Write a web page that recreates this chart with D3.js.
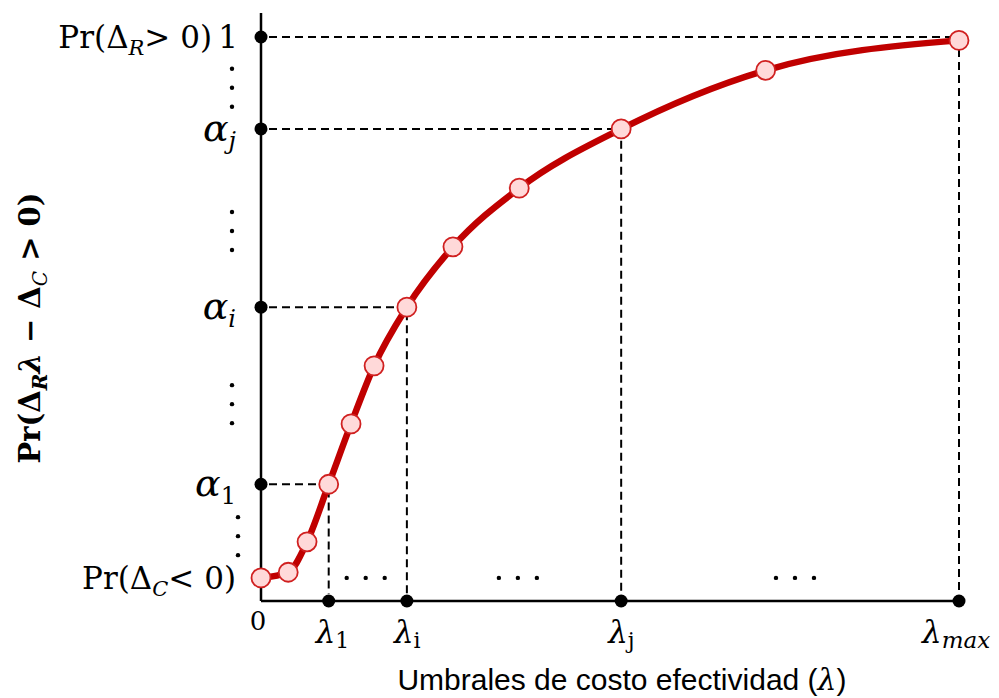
<!DOCTYPE html>
<meta charset="utf-8">
<style>
body {
	margin: 0;
	background-color: #ffffff;
}
.serif { font-family: "DejaVu Serif", serif; }
.guide { fill: none; stroke: #000; stroke-width: 2; stroke-dasharray: 8,5; }
.axis { stroke: #000; stroke-width: 2.5; fill: none; }
</style>
<body>
<script src="https://d3js.org/d3.v7.min.js"></script>
<script>
var width = 999;
var height = 698;

// curve points (lambda, probability)
var lambdaVals = [0, 3.9, 6.6, 9.7, 12.9, 16.2, 20.9, 27.5, 37.0, 51.6, 72.3, 100];
var probVals = [0.041, 0.051, 0.105, 0.207, 0.314, 0.417, 0.521, 0.628, 0.732, 0.837, 0.941, 0.994];

// marked thresholds and their probabilities
var tickLambda = [9.7, 20.9, 51.6, 100];
var tickAlpha = [0.207, 0.521, 0.837, 1];
var lambdaSubs = [["1", "normal"], ["i", "normal"], ["j", "normal"], ["max", "italic"]];
var alphaSubs = ["1", "i", "j"];

// ellipsis positions
var yDotsAt = [0.910, 0.656, 0.349, 0.115];
var xDotsAt = [15.0, 36.8, 76.5];

var x = d3.scaleLinear().domain([0, 100]).range([261, 959]);
var y = d3.scaleLinear().domain([0, 1]).range([601, 37]);

var svg = d3.select('body')
	.append('svg')
	.attr('width', width)
	.attr('height', height);

// dashed guides
tickLambda.forEach(function(l, i) {
	var a = tickAlpha[i];
	svg.append('path')
		.attr('class', 'guide')
		.attr('d', 'M' + (x(0) + 8) + ',' + y(a) + 'H' + x(l) + 'V' + (y(0) - 7));
});

// axes
svg.append('line').attr('class', 'axis')
	.attr('x1', x(0)).attr('y1', 13).attr('x2', x(0)).attr('y2', y(0));
svg.append('line').attr('class', 'axis')
	.attr('x1', x(0)).attr('y1', y(0)).attr('x2', x(100)).attr('y2', y(0));

// tick dots
svg.selectAll('.ydot').data(tickAlpha).enter().append('circle')
	.attr('cx', x(0)).attr('cy', function(d) { return y(d); }).attr('r', 6.5);
svg.selectAll('.xdot').data(tickLambda).enter().append('circle')
	.attr('cx', function(d) { return x(d); }).attr('cy', y(0)).attr('r', 6.5);

// curve
var pts = lambdaVals.map(function(l, i) { return [l, probVals[i]]; });
var line = d3.line()
	.x(function(d) { return x(d[0]); })
	.y(function(d) { return y(d[1]); })
	.curve(d3.curveMonotoneX);

svg.append('path')
	.datum(pts)
	.attr('d', line)
	.style('fill', 'none')
	.style('stroke', '#c00000')
	.style('stroke-width', 6.5);

svg.selectAll('.pt').data(pts).enter().append('circle')
	.attr('cx', function(d) { return x(d[0]); })
	.attr('cy', function(d) { return y(d[1]); })
	.attr('r', 9.5)
	.style('fill', '#ffd9d9')
	.style('stroke', '#d02020')
	.style('stroke-width', 1.8);

// ellipses
yDotsAt.forEach(function(v, i) {
	var cx = i == 3 ? 238 : 232;
	[-19, 0, 19].forEach(function(o) {
		svg.append('circle').attr('cx', cx).attr('cy', y(v) + o).attr('r', 2.2);
	});
});
xDotsAt.forEach(function(v) {
	[-19, 0, 19].forEach(function(o) {
		svg.append('circle').attr('cx', x(v) + o).attr('cy', y(0.041)).attr('r', 2.2);
	});
});

// y tick labels
var lab = svg.append('g').attr('class', 'serif').style('font-size', '31px');

var t1 = lab.append('text').attr('x', 212).attr('y', y(1) + 11).attr('text-anchor', 'end');
t1.append('tspan').text('Pr(Δ');
t1.append('tspan').attr('font-style', 'italic').attr('font-size', '21px').attr('dy', 7).text('R');
t1.append('tspan').attr('dy', -7).text('> 0)');
lab.append('text').attr('x', 238).attr('y', y(1) + 11).attr('text-anchor', 'end').text('1');

alphaSubs.forEach(function(s, i) {
	var t = lab.append('text').attr('x', 236).attr('y', y(tickAlpha[i]) + 12)
		.attr('text-anchor', 'end').attr('font-style', 'italic');
	t.append('tspan').style('font-size', '38px').text('α');
	t.append('tspan').attr('dy', 8).style('font-size', '24px')
		.attr('font-style', i == 0 ? 'normal' : 'italic').text(s);
});

var t0 = lab.append('text').attr('x', 236).attr('y', y(0.041) + 11).attr('text-anchor', 'end');
t0.append('tspan').text('Pr(Δ');
t0.append('tspan').attr('font-style', 'italic').attr('font-size', '21px').attr('dy', 7).text('C');
t0.append('tspan').attr('dy', -7).text('< 0)');

lab.append('text').attr('x', x(0) - 3).attr('y', 630).attr('text-anchor', 'middle')
	.style('font-size', '26px').text('0');

// x tick labels
tickLambda.forEach(function(l, i) {
	var last = i == tickLambda.length - 1;
	var t = lab.append('text')
		.attr('x', last ? x(l) - 37 : x(l) - 13)
		.attr('y', 643).attr('text-anchor', 'start');
	t.append('tspan').attr('font-style', 'italic').text('λ');
	t.append('tspan').attr('dy', 5).style('font-size', last ? '23px' : '22px')
		.attr('font-style', lambdaSubs[i][1]).text(lambdaSubs[i][0]);
});

// x title
var xt = svg.append('text').attr('x', 622).attr('y', 690).attr('text-anchor', 'middle')
	.style('font-family', '"Liberation Sans", Arial, sans-serif').style('font-size', '30px');
xt.append('tspan').text('Umbrales de costo efectividad (');
xt.append('tspan').attr('class', 'serif').attr('font-style', 'italic').text('λ');
xt.append('tspan').text(')');

// y title
var yt = svg.append('text').attr('class', 'serif')
	.attr('transform', 'translate(40,328) rotate(-90)')
	.attr('text-anchor', 'middle')
	.style('font-size', '29px').style('font-weight', 'bold');
yt.append('tspan').text('Pr(Δ');
yt.append('tspan').attr('font-style', 'italic').style('font-size', '20px').attr('dy', 7).text('R');
yt.append('tspan').attr('font-style', 'italic').attr('dy', -7).text('λ');
yt.append('tspan').text(' − Δ');
yt.append('tspan').attr('font-style', 'italic').style('font-size', '20px').style('font-weight', 'normal').attr('dy', 7).text('C');
yt.append('tspan').attr('dy', -7).text('  > 0)');
</script>
</body>
